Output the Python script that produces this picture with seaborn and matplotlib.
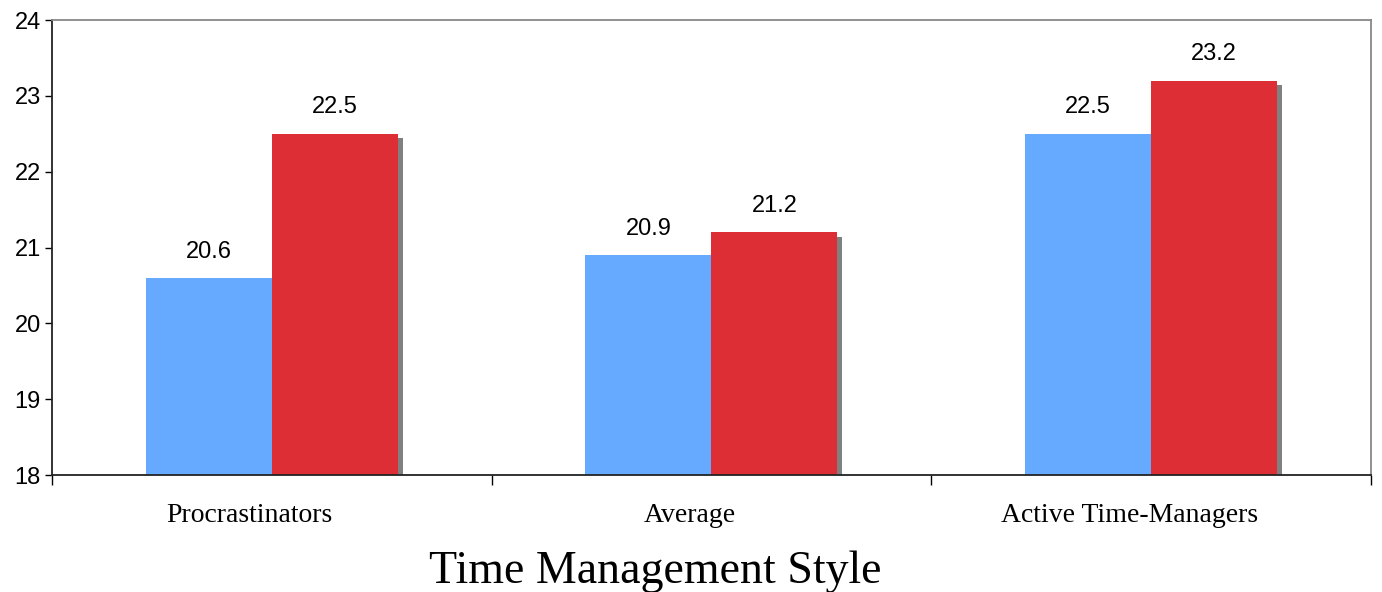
import pandas as pd
import matplotlib.pyplot as plt
import matplotlib.patheffects as pe
import matplotlib.transforms as mtransforms
import seaborn as sns

# values
categories = ['Procrastinators', 'Average', 'Active Time-Managers']
series_names = ['Series 1', 'Series 2']
series_1 = [20.6, 20.9, 22.5]
series_2 = [22.5, 21.2, 23.2]
y_ticks = [18, 19, 20, 21, 22, 23, 24]

df = pd.DataFrame({
    'Style': categories * 2,
    'Series': [series_names[0]] * 3 + [series_names[1]] * 3,
    'Value': series_1 + series_2,
})

sns.set_style('white')
plt.rcParams['font.family'] = ['Liberation Sans', 'DejaVu Sans']
plt.rcParams['text.color'] = 'black'
plt.rcParams['xtick.color'] = 'black'
plt.rcParams['ytick.color'] = 'black'

fig = plt.figure(figsize=(13.82, 5.92), dpi=100)
ax = fig.add_axes([0.0376, 0.1976, 0.9544, 0.7686])

sns.barplot(data=df, x='Style', y='Value', hue='Series',
            palette=['#66AAFF', '#DD2D35'], width=0.573, saturation=1,
            linewidth=0, legend=False, ax=ax)

# drop shadow on the red series only
for bar in ax.containers[1]:
    bar.set_path_effects([pe.SimplePatchShadow(offset=(3.6, -3), shadow_rgbFace='#808080', alpha=1.0),
                          pe.Normal()])

for cont in ax.containers:
    ax.bar_label(cont, fmt='%.1f', padding=11, fontsize=17, color='black')

ax.set_ylim(18, 24)
ax.set_xlim(-0.5, 2.5)
ax.set_yticks(y_ticks)
ax.tick_params(axis='y', labelsize=17, length=5, width=1, direction='out', left=True, pad=3)

# ticks at category boundaries, labels in the middle
ax.set_xticks([-0.5, 0.5, 1.5, 2.5], minor=True)
ax.set_xticks(range(len(categories)))
ax.set_xticklabels(categories, family='Liberation Serif', fontsize=20)
ax.tick_params(axis='x', which='major', length=0, pad=20)
ax.tick_params(axis='x', which='minor', length=7, width=1, direction='out', bottom=True)
shift = mtransforms.ScaledTranslation(-0.22, 0, fig.dpi_scale_trans)
for lab in ax.get_xticklabels():
    lab.set_transform(lab.get_transform() + shift)

for side in ['left', 'bottom']:
    ax.spines[side].set_color('#222222')
    ax.spines[side].set_linewidth(1.3)
for side in ['top', 'right']:
    ax.spines[side].set_color('#888888')
    ax.spines[side].set_linewidth(1.3)

ax.set_xlabel('')
ax.set_ylabel('')
fig.text(0.474, 0.034, 'Time Management Style', ha='center', va='center',
         family='Liberation Serif', fontsize=33)

fig.savefig('out.png', dpi=100)
